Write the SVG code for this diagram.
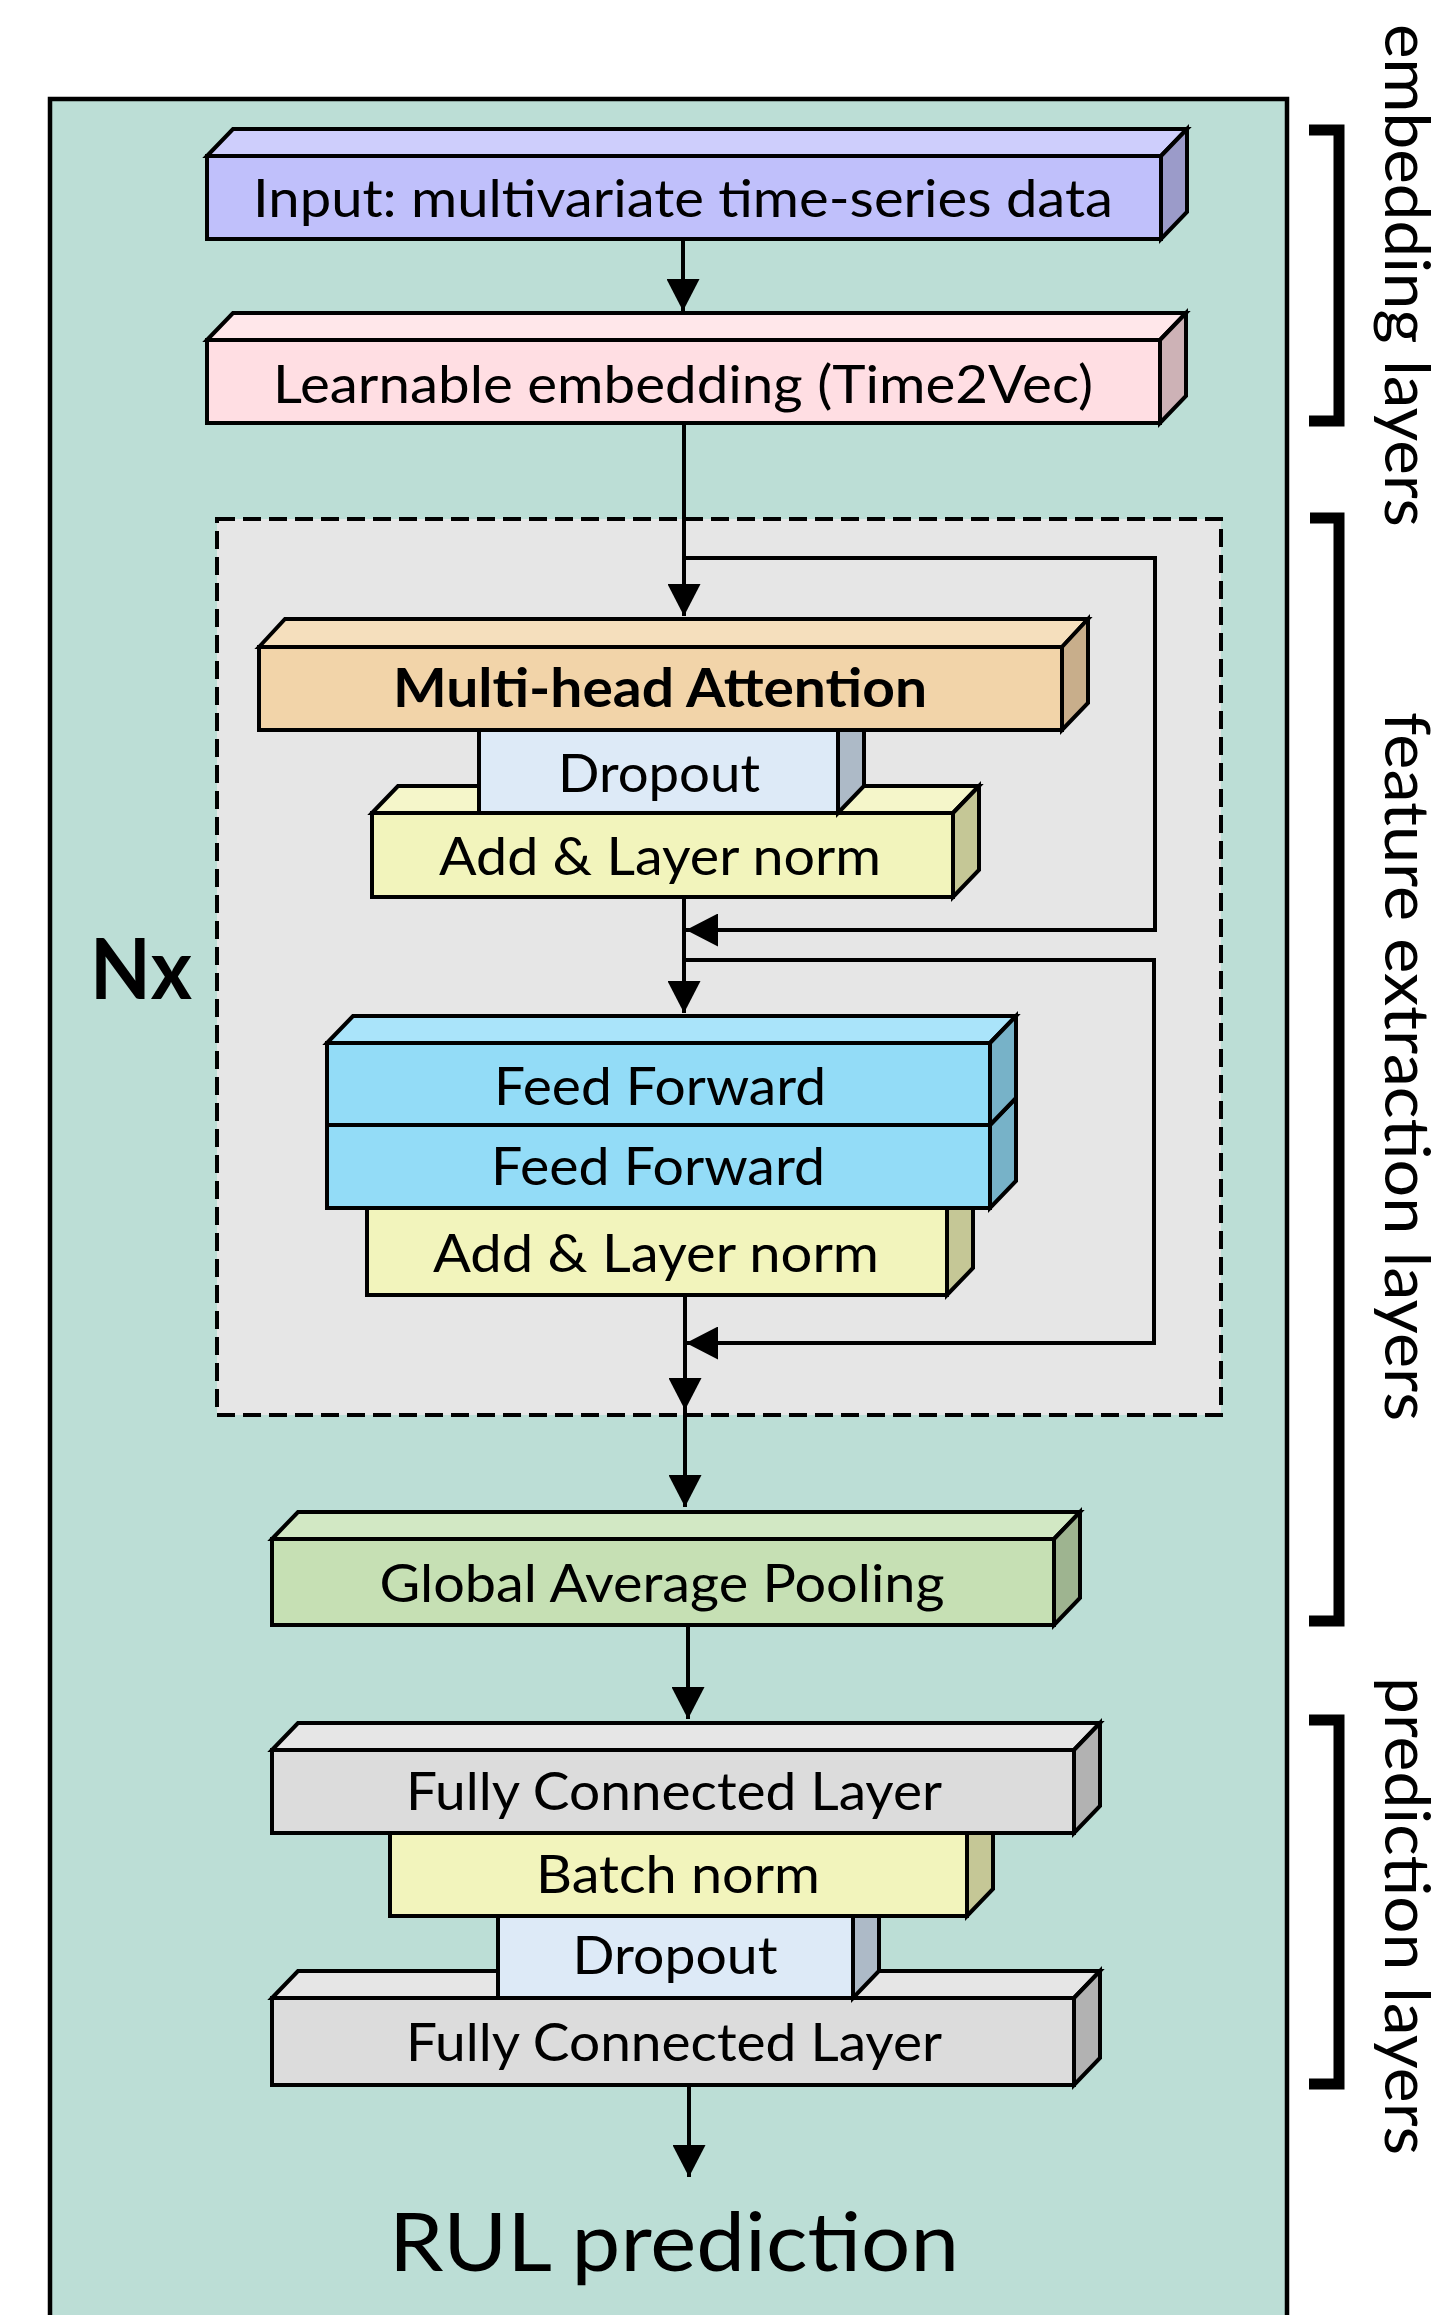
<svg xmlns="http://www.w3.org/2000/svg" width="1446" height="2315" viewBox="0 0 1446 2315">
<style>
.bx{stroke:#000;stroke-width:4;stroke-linejoin:miter}
.t{font-family:Lato,"Open Sans","Liberation Sans",sans-serif;font-size:53px;fill:#000;text-anchor:middle}
.b{font-weight:bold}
.lbl{font-family:Lato,"Open Sans","Liberation Sans",sans-serif;font-size:62px;fill:#000}
.ln{fill:none;stroke:#000;stroke-width:4}
.br{fill:none;stroke:#000;stroke-width:11;stroke-linejoin:miter}
.inF{fill:#C0C0FB}.inT{fill:#CECEFC}.inS{fill:#9B9BC9}
.leF{fill:#FFDEE3}.leT{fill:#FFE7EA}.leS{fill:#CDB2B6}
.mhF{fill:#F2D4A9}.mhT{fill:#F5DFBD}.mhS{fill:#C8AE8B}
.doF{fill:#DDEAF7}.doS{fill:#ADBAC7}
.adF{fill:#F2F4BC}.adT{fill:#F5F6CA}.adS{fill:#C5C796}
.ffF{fill:#93DCF7}.ffT{fill:#AAE4FA}.ffS{fill:#77B2C8}
.gpF{fill:#C6E0B4}.gpT{fill:#D2E8C4}.gpS{fill:#9EB490}
.fcF{fill:#DCDCDC}.fcT{fill:#E6E6E6}.fcS{fill:#B2B2B2}
</style>
<defs>
<marker id="ah" markerUnits="userSpaceOnUse" viewBox="0 0 32 33" refX="32" refY="16.5" markerWidth="32" markerHeight="33" orient="auto">
<path d="M0,0 L32,16.5 L0,33 z" fill="#000"/>
</marker>
</defs>
<rect width="1446" height="2315" fill="#FFFFFF"/>
<g id="outer">
<rect x="50" y="99" width="1237" height="2260" fill="#BCDED6" stroke="#000" stroke-width="4.5"/>
</g>
<g id="nx-block">
<rect x="217" y="519" width="1004" height="896" fill="#E6E6E6" stroke="#000" stroke-width="4" stroke-dasharray="18 8"/>
</g>

<g id="connectors">
<line class="ln" x1="683" y1="239" x2="683" y2="311" marker-end="url(#ah)"/>
<line class="ln" x1="684" y1="423" x2="684" y2="616" marker-end="url(#ah)"/>
<path class="ln" d="M684,558 H1155 V930 H686" marker-end="url(#ah)"/>
<line class="ln" x1="684" y1="897" x2="684" y2="1013" marker-end="url(#ah)"/>
<path class="ln" d="M684,960 H1154 V1343 H686" marker-end="url(#ah)"/>
<line class="ln" x1="685" y1="1295" x2="685" y2="1410" marker-end="url(#ah)"/>
<line class="ln" x1="685" y1="1410" x2="685" y2="1507" marker-end="url(#ah)"/>
<line class="ln" x1="688" y1="1625" x2="688" y2="1719" marker-end="url(#ah)"/>
<line class="ln" x1="689" y1="2085" x2="689" y2="2177" marker-end="url(#ah)"/>
</g>

<g id="input">
<polygon class="bx inT" points="207,156 233,129 1187,129 1161,156"/>
<polygon class="bx inS" points="1161,156 1187,129 1187,212 1161,239"/>
<rect class="bx inF" x="207" y="156" width="954" height="83"/>
<text class="t" x="683" y="217" textLength="860" lengthAdjust="spacingAndGlyphs">Input: multivariate time-series data</text>
</g>

<g id="embedding">
<polygon class="bx leT" points="207,340 233,313 1186,313 1160,340"/>
<polygon class="bx leS" points="1160,340 1186,313 1186,396 1160,423"/>
<rect class="bx leF" x="207" y="340" width="953" height="83"/>
<text class="t" x="683" y="403" textLength="820" lengthAdjust="spacingAndGlyphs">Learnable embedding (Time2Vec)</text>
</g>

<g id="add-norm-1">
<polygon class="bx adT" points="372,813 398,786 979,786 953,813"/>
<polygon class="bx adS" points="953,813 979,786 979,870 953,897"/>
<rect class="bx adF" x="372" y="813" width="581" height="84"/>
<text class="t" x="660" y="875" textLength="442" lengthAdjust="spacingAndGlyphs">Add &amp; Layer norm</text>
</g>

<g id="dropout-1">
<polygon class="bx doS" points="838,730 864,703 864,786 838,813"/>
<rect class="bx doF" x="479" y="730" width="359" height="83"/>
<text class="t" x="659" y="792" textLength="202" lengthAdjust="spacingAndGlyphs">Dropout</text>
</g>

<g id="multi-head-attention">
<polygon class="bx mhT" points="259,647 285,619 1088,619 1062,647"/>
<polygon class="bx mhS" points="1062,647 1088,619 1088,703 1062,730"/>
<rect class="bx mhF" x="259" y="647" width="803" height="83"/>
<text class="t b" x="660" y="707" textLength="534" lengthAdjust="spacingAndGlyphs">Multi-head Attention</text>
</g>

<g id="add-norm-2">
<polygon class="bx adS" points="947,1208 973,1181 973,1268 947,1295"/>
<rect class="bx adF" x="367" y="1208" width="580" height="87"/>
<text class="t" x="656" y="1272" textLength="446" lengthAdjust="spacingAndGlyphs">Add &amp; Layer norm</text>
</g>

<g id="feed-forward-2">
<polygon class="bx ffS" points="990,1125 1016,1098 1016,1181 990,1208"/>
<rect class="bx ffF" x="327" y="1125" width="663" height="83"/>
<text class="t" x="658" y="1185" textLength="334" lengthAdjust="spacingAndGlyphs">Feed Forward</text>
</g>

<g id="feed-forward-1">
<polygon class="bx ffT" points="327,1043 353,1016 1016,1016 990,1043"/>
<polygon class="bx ffS" points="990,1043 1016,1016 1016,1098 990,1125"/>
<rect class="bx ffF" x="327" y="1043" width="663" height="82"/>
<text class="t" x="660" y="1105" textLength="332" lengthAdjust="spacingAndGlyphs">Feed Forward</text>
</g>

<g id="global-average-pooling">
<polygon class="bx gpT" points="272,1539 298,1512 1080,1512 1054,1539"/>
<polygon class="bx gpS" points="1054,1539 1080,1512 1080,1598 1054,1625"/>
<rect class="bx gpF" x="272" y="1539" width="782" height="86"/>
<text class="t" x="662" y="1602" textLength="565" lengthAdjust="spacingAndGlyphs">Global Average Pooling</text>
</g>

<g id="fully-connected-2">
<polygon class="bx fcT" points="272,1998 298,1971 1100,1971 1074,1998"/>
<polygon class="bx fcS" points="1074,1998 1100,1971 1100,2058 1074,2085"/>
<rect class="bx fcF" x="272" y="1998" width="802" height="87"/>
<text class="t" x="674" y="2061" textLength="536" lengthAdjust="spacingAndGlyphs">Fully Connected Layer</text>
</g>

<g id="dropout-2">
<polygon class="bx doS" points="853,1916 879,1889 879,1971 853,1998"/>
<rect class="bx doF" x="498" y="1916" width="355" height="82"/>
<text class="t" x="675" y="1974" textLength="205" lengthAdjust="spacingAndGlyphs">Dropout</text>
</g>

<g id="batch-norm">
<polygon class="bx adS" points="967,1833 993,1806 993,1889 967,1916"/>
<rect class="bx adF" x="390" y="1833" width="577" height="83"/>
<text class="t" x="678" y="1893" textLength="284" lengthAdjust="spacingAndGlyphs">Batch norm</text>
</g>

<g id="fully-connected-1">
<polygon class="bx fcT" points="272,1750 298,1723 1100,1723 1074,1750"/>
<polygon class="bx fcS" points="1074,1750 1100,1723 1100,1806 1074,1833"/>
<rect class="bx fcF" x="272" y="1750" width="802" height="83"/>
<text class="t" x="674" y="1810" textLength="536" lengthAdjust="spacingAndGlyphs">Fully Connected Layer</text>
</g>

<g id="rul-prediction">
<text class="t" x="674" y="2271" textLength="570" lengthAdjust="spacingAndGlyphs" style="font-size:82px">RUL prediction</text>
</g>

<g id="nx-label">
<text x="90" y="999" font-family="Lato,'Open Sans','Liberation Sans',sans-serif" font-weight="bold" font-size="84" textLength="102" lengthAdjust="spacingAndGlyphs">Nx</text>
</g>

<g id="brackets">
<path class="br" d="M1309,130 H1339 V421 H1309"/>
<path class="br" d="M1310,518 H1339 V1621 H1309"/>
<path class="br" d="M1309,1720 H1339 V2084 H1309"/>
</g>

<g id="side-labels">
<text class="lbl" transform="translate(1385,24) rotate(90)" textLength="503" lengthAdjust="spacingAndGlyphs">embedding layers</text>
<text class="lbl" transform="translate(1385,712) rotate(90)" textLength="709" lengthAdjust="spacingAndGlyphs">feature extraction layers</text>
<text class="lbl" transform="translate(1385,1677) rotate(90)" textLength="478" lengthAdjust="spacingAndGlyphs">prediction layers</text>
</g>
</svg>
